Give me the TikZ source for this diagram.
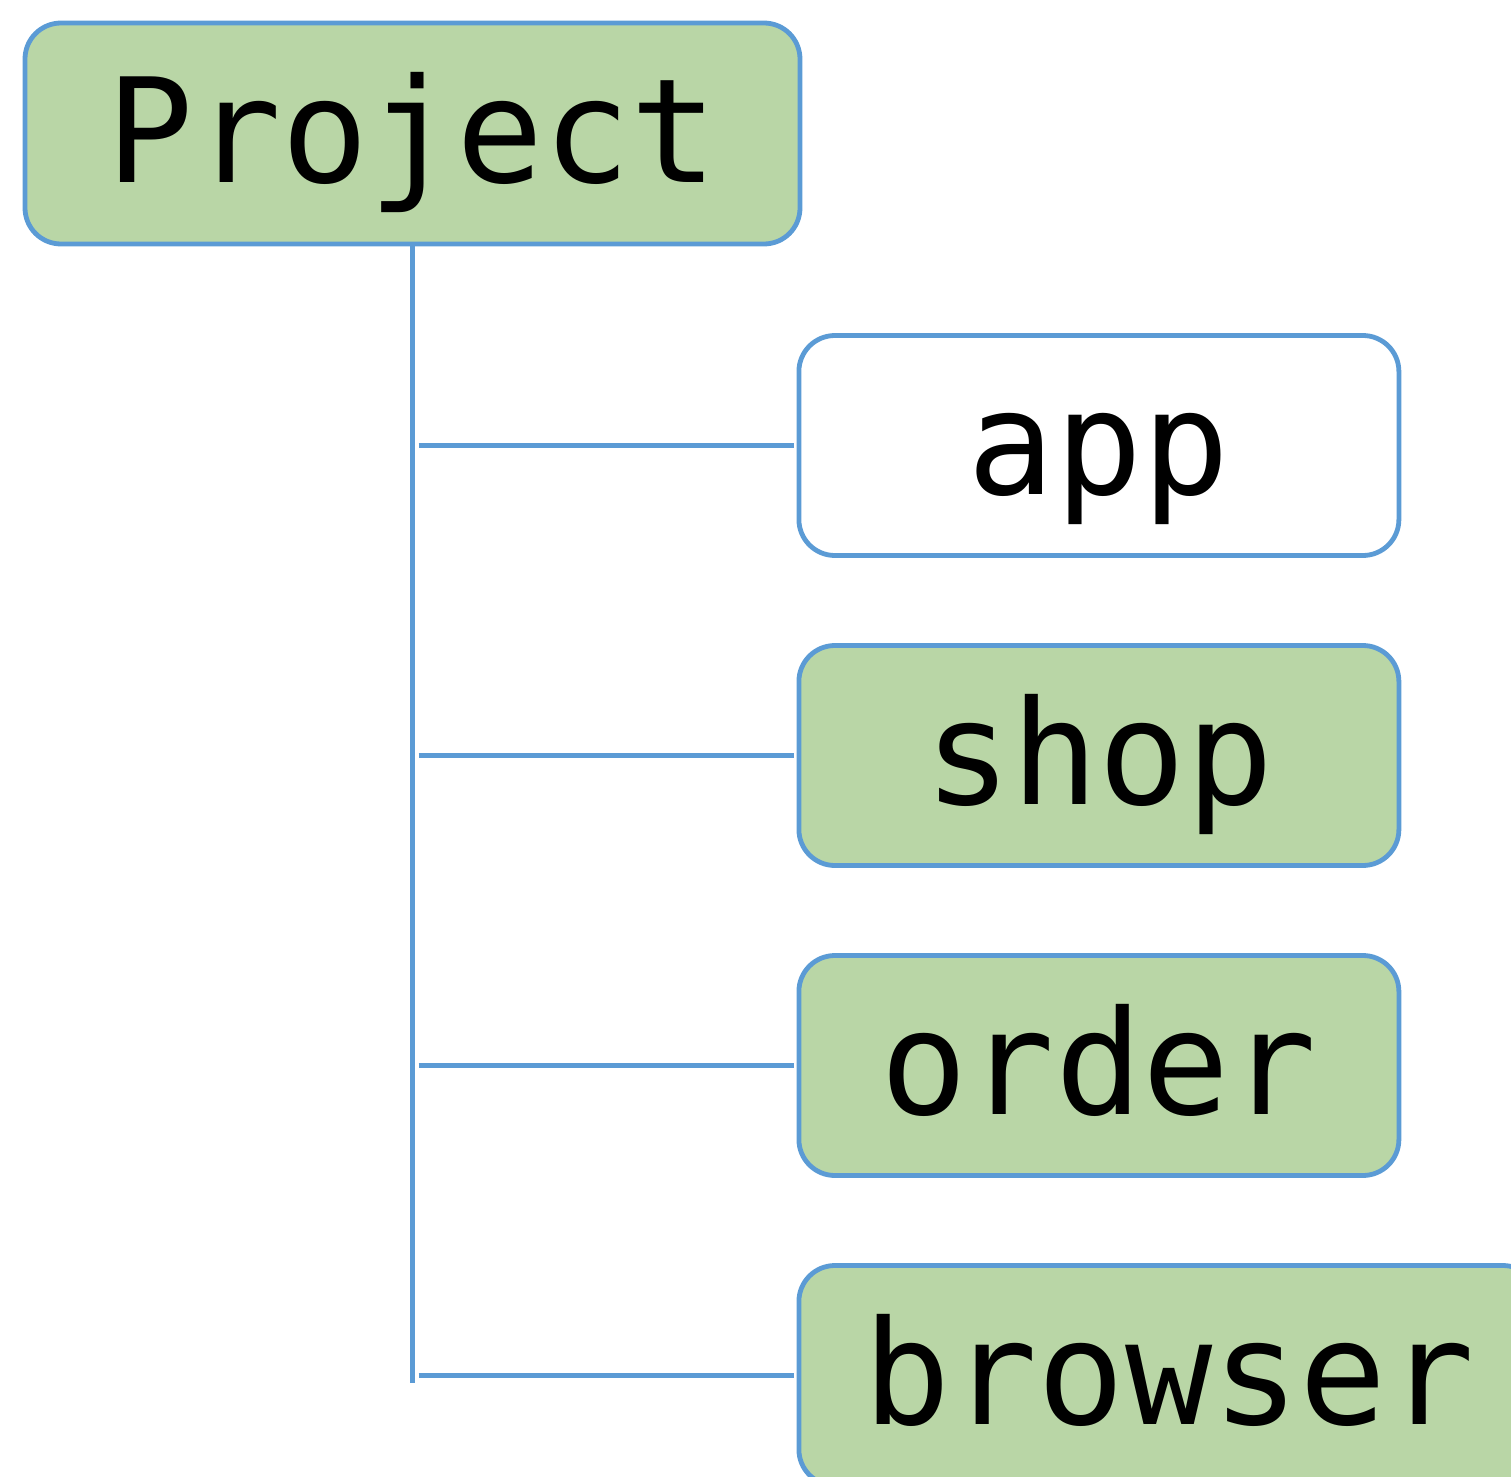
\documentclass[tikz,border=0pt]{standalone}
\usepackage{fontspec}
\newfontfamily\treefont{DejaVu Sans Mono}
\usetikzlibrary{trees}
\definecolor{leafgreen}{HTML}{B9D6A6}
\definecolor{linkblue}{HTML}{5B9BD5}

\begin{document}
\begin{tikzpicture}[
    x=0.25pt, y=-0.25pt,
    every node/.style={rectangle, rounded corners=9pt, draw=linkblue, line width=1.2pt, fill=leafgreen, minimum width=150pt, minimum height=55pt, inner sep=0pt, text height=33.5pt, text depth=9pt, font=\treefont\fontsize{36.25}{40}\selectfont},
    every child node/.style={anchor=west},
    grow via three points={one child at (384,312) and two children at (384,312) and (384,622)},
    edge from parent/.style={draw=linkblue, line width=1.2pt, shorten <=1.5pt, shorten >=0.75pt},
    edge from parent path={(\tikzparentnode.south |- \tikzchildnode.west) -- (\tikzchildnode.west)},
    trunk/.style={draw=linkblue, line width=1.2pt}
    ]
    \useasboundingbox (0,0) rectangle (1511,1477);
    \node (project) at (412.5,133.5) [minimum width=193.75pt, minimum height=55.25pt] {Project}
      child {node (app) [fill=white] {app}}
      child {node (shop) {shop}}
      child {node (order) {order}}
      child {node (browser) [minimum width=185pt] {browser}}; % sai pela borda
    \draw[trunk] (project.south) -- ([yshift=-1.75pt]project.south |- browser.west);
\end{tikzpicture}
\end{document}
